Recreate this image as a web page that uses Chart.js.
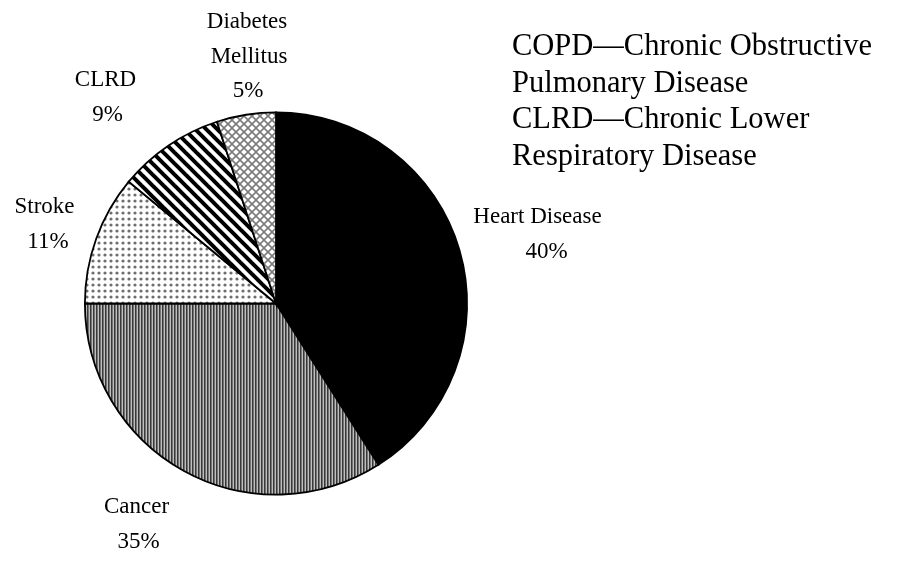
<!DOCTYPE html>
<html>
<head>
<meta charset="utf-8">
<script src="https://cdn.jsdelivr.net/npm/chart.js@4/dist/chart.umd.min.js"></script>
<style>
  html, body { margin: 0; padding: 0; background: #ffffff; }
  #wrap { width: 899px; height: 561px; position: relative; }
</style>
</head>
<body>
<div id="wrap"><canvas id="c" width="899" height="561"></canvas></div>
<script>
// ---- data ----
const categories = ["Heart Disease", "Cancer", "Stroke", "CLRD", "Diabetes Mellitus"];
const sliceShares = [41, 34, 11, 9, 5];            // slice sizes as drawn
const percentLabels = ["40%", "35%", "11%", "9%", "5%"]; // printed labels
const noteLines = [
  "COPD\u2014Chronic Obstructive",
  "Pulmonary Disease",
  "CLRD\u2014Chronic Lower",
  "Respiratory Disease"
];

// ---- patterns ----
function makeTile(w, h, draw) {
  const c = document.createElement('canvas');
  c.width = w; c.height = h;
  const g = c.getContext('2d');
  draw(g, w, h);
  return g.createPattern(c, 'repeat');
}
const ctxMain = document.getElementById('c').getContext('2d');

const patHeart = '#000000';
const patCancer = makeTile(3, 4, (g) => {
  g.fillStyle = '#383838'; g.fillRect(0, 0, 1, 4);
  g.fillStyle = '#747474'; g.fillRect(1, 0, 1, 4);
  g.fillStyle = '#bebebe'; g.fillRect(2, 0, 1, 4);
});
const patStroke = makeTile(6, 6, (g) => {
  g.fillStyle = '#ffffff'; g.fillRect(0, 0, 6, 6);
  g.fillStyle = '#6e6e6e';
  g.beginPath(); g.arc(3, 3, 1.6, 0, Math.PI * 2); g.fill();
});
const patCLRD = makeTile(11, 11, (g) => {
  g.fillStyle = '#ffffff'; g.fillRect(0, 0, 11, 11);
  g.strokeStyle = '#000000'; g.lineWidth = 4;
  for (let k = -11; k <= 11; k += 11) {
    g.beginPath(); g.moveTo(k - 2, -2); g.lineTo(k + 13, 13); g.stroke();
  }
});
const patDiabetes = makeTile(8, 8, (g) => {
  g.fillStyle = '#ffffff'; g.fillRect(0, 0, 8, 8);
  g.strokeStyle = '#7c7c7c'; g.lineWidth = 1.6;
  for (let k = -8; k <= 8; k += 8) {
    g.beginPath(); g.moveTo(k - 1, -1); g.lineTo(k + 9, 9); g.stroke();
    g.beginPath(); g.moveTo(k + 9, -1); g.lineTo(k - 1, 9); g.stroke();
  }
});

// ---- text layer ----
const labelFont = '23px "Liberation Serif", "Times New Roman", serif';
const noteFont = '30.5px "Liberation Serif", "Times New Roman", serif';
const labelPlacement = [
  { name: [[537.5, 223, "Heart Disease"]], pct: [546.5, 258] },
  { name: [[136.5, 513, "Cancer"]], pct: [138.5, 548] },
  { name: [[44.5, 213, "Stroke"]], pct: [48, 248] },
  { name: [[105.5, 86, "CLRD"]], pct: [107.5, 121] },
  { name: [[247, 28, "Diabetes"], [249, 63, "Mellitus"]], pct: [248, 97] }
];

const textPlugin = {
  id: 'textLayer',
  afterDraw(chart) {
    const g = chart.ctx;
    g.save();
    g.fillStyle = '#000000';
    g.textBaseline = 'alphabetic';
    g.textAlign = 'center';
    g.font = labelFont;
    labelPlacement.forEach((p, i) => {
      p.name.forEach(([x, y, t]) => g.fillText(t, x, y));
      g.fillText(percentLabels[i], p.pct[0], p.pct[1]);
    });
    g.textAlign = 'left';
    g.font = noteFont;
    const noteBaselines = [55, 91.5, 128, 164.5];
    noteLines.forEach((t, i) => g.fillText(t, 512, noteBaselines[i]));
    g.restore();
  }
};

new Chart(ctxMain, {
  type: 'pie',
  data: {
    labels: categories,
    datasets: [{
      data: sliceShares,
      backgroundColor: [patHeart, patCancer, patStroke, patCLRD, patDiabetes],
      borderColor: '#000000',
      borderWidth: 1.8,
      borderJoinStyle: 'miter'
    }]
  },
  options: {
    responsive: false,
    animation: false,
    events: [],
    layout: { padding: { left: 84, right: 431, top: 111.5, bottom: 65.5 } },
    plugins: {
      legend: { display: false },
      tooltip: { enabled: false },
      title: { display: false }
    }
  },
  plugins: [textPlugin]
});
</script>
</body>
</html>
